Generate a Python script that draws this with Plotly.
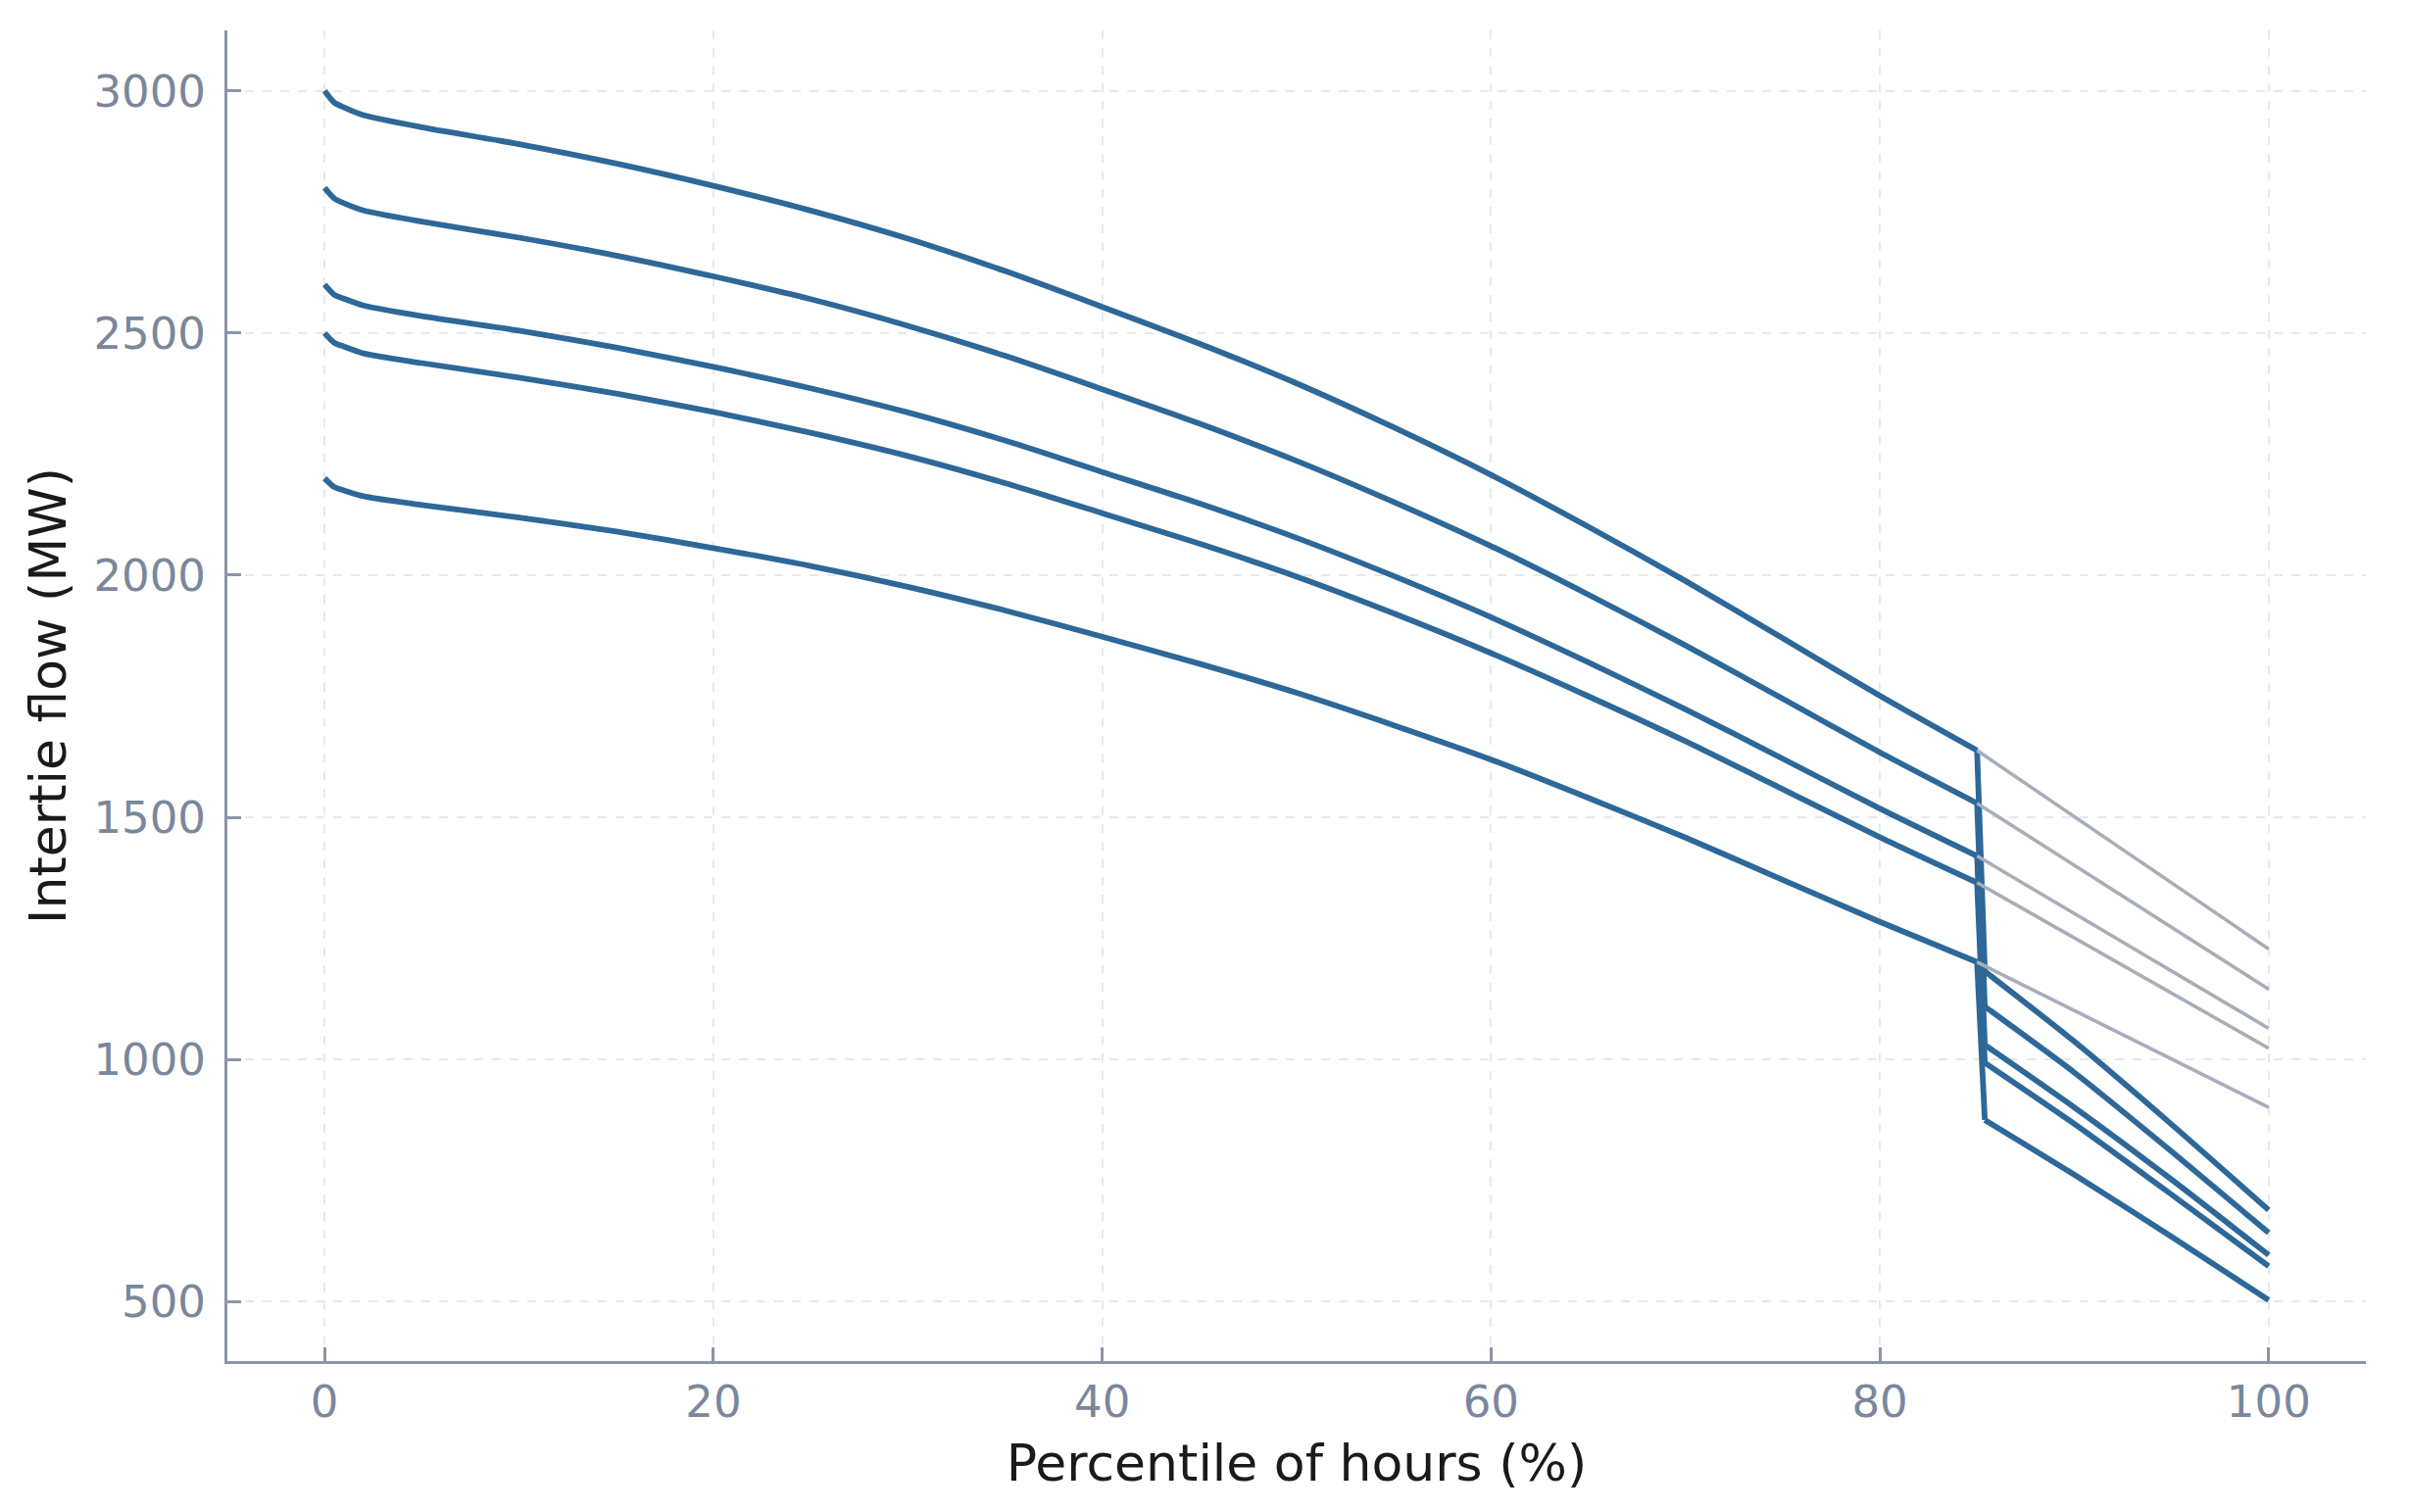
import plotly.graph_objects as go

# Percentile of hours (%) before the step at ~85 %
pct = [0, 0.5, 1, 2, 5, 10, 15, 20, 25, 30, 35, 40, 45, 50, 55, 60, 65, 70, 75, 80, 85]
# Percentile points after the step
post_pct = [85.4, 90, 95, 100]
# Counterfactual (gray) continuation
gray_pct = [85, 100]

# Intertie flow (MW), five scenarios, before the step
flow_a = [3000, 2976, 2966, 2950, 2925, 2890, 2850, 2804, 2753, 2695, 2628, 2554, 2478, 2396, 2305, 2207, 2100, 1988, 1870, 1751, 1638]
flow_b = [2800, 2778, 2768, 2753, 2730, 2697, 2660, 2617, 2570, 2515, 2453, 2384, 2313, 2236, 2151, 2060, 1960, 1855, 1745, 1634, 1529]
flow_c = [2600, 2579, 2571, 2557, 2535, 2505, 2470, 2430, 2386, 2336, 2278, 2213, 2148, 2077, 1998, 1913, 1820, 1723, 1621, 1518, 1420]
flow_d = [2500, 2480, 2472, 2458, 2438, 2408, 2375, 2337, 2294, 2246, 2190, 2128, 2065, 1997, 1921, 1839, 1750, 1657, 1558, 1459, 1365]
flow_e = [2200, 2182, 2175, 2163, 2145, 2119, 2090, 2056, 2019, 1976, 1927, 1873, 1817, 1757, 1690, 1619, 1540, 1458, 1371, 1284, 1201]

# After the step (blue)
post_a = [1182, 1037, 866, 689]
post_b = [1109, 973, 810, 642]
post_c = [1030, 901, 752, 596]
post_d = [993, 867, 721, 573]
post_e = [875, 762, 634, 503]

# Gray continuation without the step
gray_a = [1638, 1228]
gray_b = [1529, 1145]
gray_c = [1420, 1064]
gray_d = [1365, 1023]
gray_e = [1201, 901]

x_ticks = [0, 20, 40, 60, 80, 100]
y_ticks = [500, 1000, 1500, 2000, 2500, 3000]

BLUE = "#2d6899"
GRAY = "#a7aeb8"
SPINE = "#8b95a8"
TICKTXT = "#7a879c"
GRID = "#e6e9ee"
FONT = "DejaVu Sans"
BW = 5.8

fig = go.Figure()

for pre, post in [(flow_a, post_a), (flow_b, post_b), (flow_c, post_c),
                  (flow_d, post_d), (flow_e, post_e)]:
    # smooth duration curve up to the step
    fig.add_trace(go.Scatter(
        x=pct, y=pre, mode="lines",
        line=dict(color=BLUE, width=BW, shape="spline", smoothing=0.7),
        showlegend=False, hoverinfo="skip"))
    # the step itself
    fig.add_trace(go.Scatter(
        x=[pct[-1], post_pct[0]], y=[pre[-1], post[0]], mode="lines",
        line=dict(color=BLUE, width=BW), showlegend=False, hoverinfo="skip"))
    # after the step
    fig.add_trace(go.Scatter(
        x=post_pct, y=post, mode="lines",
        line=dict(color=BLUE, width=BW, shape="spline", smoothing=0.6),
        showlegend=False, hoverinfo="skip"))

for g in [gray_a, gray_b, gray_c, gray_d, gray_e]:
    fig.add_trace(go.Scatter(
        x=gray_pct, y=g, mode="lines",
        line=dict(color=GRAY, width=3.6), showlegend=False, hoverinfo="skip"))

axis_common = dict(
    showline=True, linecolor=SPINE, linewidth=3, mirror=False,
    ticks="inside", ticklen=14, tickwidth=2.5, tickcolor=SPINE,
    showgrid=True, gridcolor=GRID, gridwidth=2, griddash="dash",
    zeroline=False, automargin=False,
    tickfont=dict(family=FONT, size=45, color=TICKTXT),
)

# the page body adds an 8 px offset, compensated in the margins
fig.update_layout(
    width=2458, height=1543,
    paper_bgcolor="white", plot_bgcolor="white",
    margin=dict(l=224, r=52, t=23, b=162),
    xaxis=dict(range=[-5, 105], tickvals=x_ticks,
               title=dict(text="Percentile of hours (%)", standoff=19,
                          font=dict(family=FONT, size=52, color="#1a1a1a")),
               **axis_common),
    yaxis=dict(range=[377, 3125], tickvals=y_ticks, ticklabelstandoff=10,
               title=dict(text="Intertie flow (MW)", standoff=12,
                          font=dict(family=FONT, size=52, color="#1a1a1a")),
               **axis_common),
)

fig.write_html("out.html")
